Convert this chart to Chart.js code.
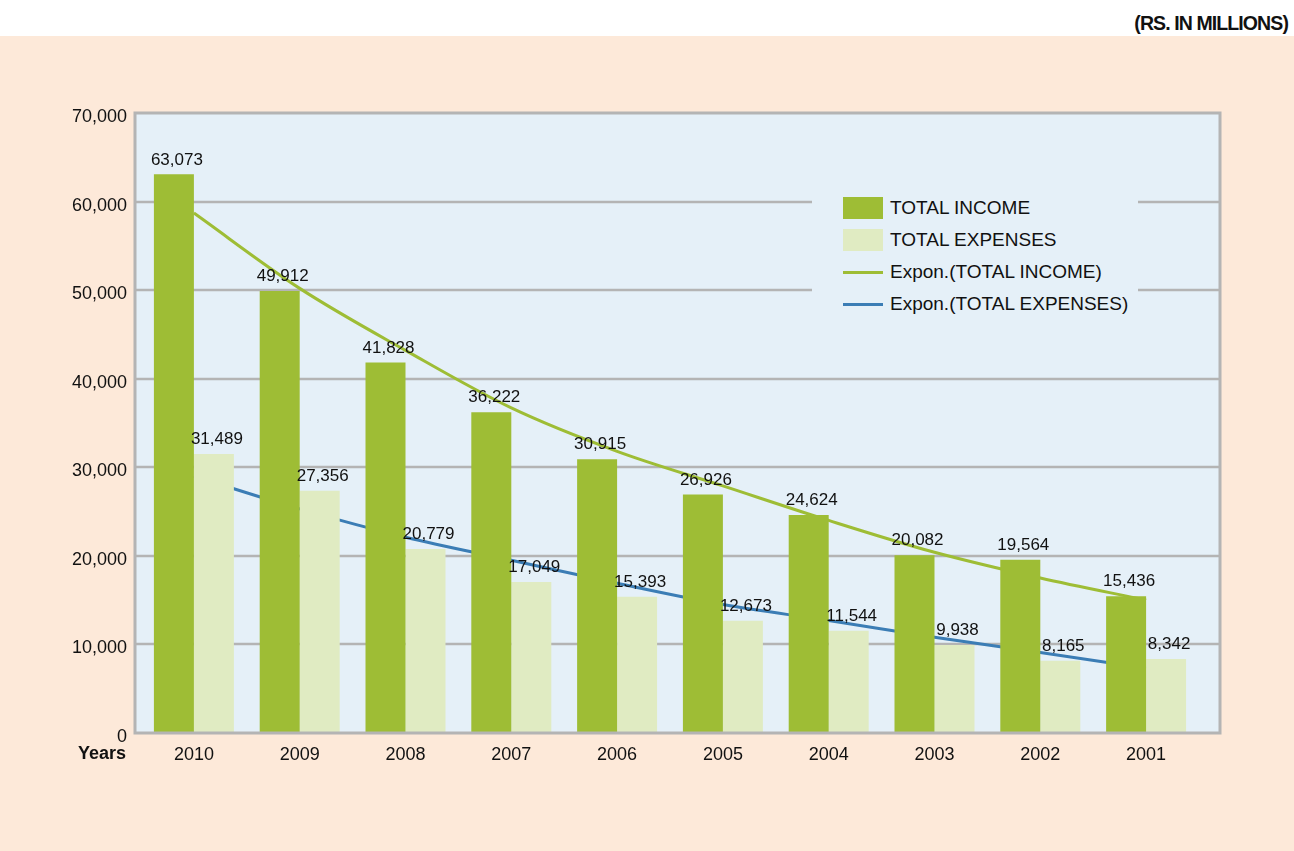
<!DOCTYPE html>
<html>
<head>
<meta charset="utf-8">
<script src="https://cdn.jsdelivr.net/npm/chart.js@4.4.1/dist/chart.umd.min.js"></script>
<style>
  body { margin: 0; background: #fff; font-family: "Liberation Sans", Arial, sans-serif; color: #111; }
  #page { position: relative; width: 1294px; height: 851px; overflow: hidden; }
  #head { height: 36px; position: relative; background: #fff; }
  #unit { position: absolute; right: 6px; top: 12px; font-weight: bold; font-size: 19.5px; letter-spacing: -0.9px; }
  #wrap { position: absolute; left: 0; top: 36px; width: 1294px; height: 815px; background: #fde9d9; }
  #years { position: absolute; left: 78px; top: 743px; font-weight: bold; font-size: 18px; }
  #legend { position: absolute; left: 812px; top: 186px; width: 326px; height: 134px; background: #e5f0f8; }
  .row { position: absolute; left: 0; height: 32px; width: 326px; }
  .sw { position: absolute; left: 31px; width: 40px; }
  .tx { position: absolute; left: 78px; font-size: 19px; line-height: 20px; white-space: nowrap; }
</style>
</head>
<body>
<div id="page">
  <div id="head"><div id="unit">(RS. IN MILLIONS)</div></div>
  <div id="wrap"><canvas id="mycanvas" width="1294" height="815"></canvas></div>
  <div id="years">Years</div>
  <div id="legend"></div>
</div>
<script>
var years = ['2010', '2009', '2008', '2007', '2006', '2005', '2004', '2003', '2002', '2001'];
var totalIncome = [63073, 49912, 41828, 36222, 30915, 26926, 24624, 20082, 19564, 15436];
var totalExpenses = [31489, 27356, 20779, 17049, 15393, 12673, 11544, 9938, 8165, 8342];
// exponential trend lines at each year
var incomeTrend = [58700, 50200, 43200, 36700, 31800, 27900, 24000, 20400, 17500, 15000];
var expensesTrend = [29000, 25300, 22100, 19500, 16900, 14500, 12700, 10800, 9100, 7300];
var yTicks = [0, 10000, 20000, 30000, 40000, 50000, 60000, 70000];

var green = '#9ebd35';
var pale = '#e0ebc2';
var blue = '#3b7db5';
var gridCol = '#b4b4b4';

// html legend
var items = [
  { label: 'TOTAL INCOME', color: green, box: true },
  { label: 'TOTAL EXPENSES', color: pale, box: true },
  { label: 'Expon.(TOTAL INCOME)', color: green, box: false },
  { label: 'Expon.(TOTAL EXPENSES)', color: blue, box: false }
];
var legend = document.getElementById('legend');
items.forEach(function(it, i) {
  var row = document.createElement('div');
  row.className = 'row';
  row.style.top = (6 + i * 32) + 'px';
  var sw = document.createElement('div');
  sw.className = 'sw';
  sw.style.background = it.color;
  sw.style.height = it.box ? '22px' : '3px';
  sw.style.top = it.box ? '5px' : '15px';
  var tx = document.createElement('div');
  tx.className = 'tx';
  tx.style.top = '6px';
  tx.textContent = it.label;
  row.appendChild(sw);
  row.appendChild(tx);
  legend.appendChild(row);
});

var plotBack = {
  id: 'plotBack',
  beforeDatasetsDraw: function(chart) {
    var a = chart.chartArea, ctx = chart.ctx, y = chart.scales.y;
    var l = a.left - 6, r = a.right + 21;
    ctx.save();
    ctx.fillStyle = '#e5f0f8';
    ctx.fillRect(l, a.top, r - l, a.bottom - a.top);
    ctx.strokeStyle = gridCol;
    ctx.lineWidth = 2.5;
    yTicks.forEach(function(v) {
      if (v === 0 || v === 70000) return;
      var py = Math.round(y.getPixelForValue(v));
      ctx.beginPath();
      ctx.moveTo(l, py);
      ctx.lineTo(r, py);
      ctx.stroke();
    });
    ctx.restore();
  },
  afterDatasetsDraw: function(chart) {
    var a = chart.chartArea, ctx = chart.ctx;
    var l = a.left - 6, r = a.right + 21;
    ctx.save();
    ctx.strokeStyle = gridCol;
    ctx.lineWidth = 3;
    ctx.strokeRect(l, a.top, r - l, a.bottom - a.top);
    // value labels over the bars
    ctx.fillStyle = '#111';
    ctx.font = '17px "Liberation Sans", Arial, sans-serif';
    ctx.textAlign = 'center';
    ctx.textBaseline = 'bottom';
    [0, 1].forEach(function(di) {
      var meta = chart.getDatasetMeta(di);
      var data = chart.data.datasets[di].data;
      meta.data.forEach(function(bar, i) {
        ctx.fillText(data[i].toLocaleString('en-US'), bar.x + 3, bar.y - 6);
      });
    });
    ctx.restore();
  }
};

var ctx = document.getElementById('mycanvas');
new Chart(ctx, {
  type: 'bar',
  data: {
    labels: years,
    datasets: [
      { label: 'TOTAL INCOME', data: totalIncome, backgroundColor: green, order: 1,
        categoryPercentage: 0.756, barPercentage: 1 },
      { label: 'TOTAL EXPENSES', data: totalExpenses, backgroundColor: pale, order: 1,
        categoryPercentage: 0.756, barPercentage: 1 },
      { type: 'line', label: 'Expon.(TOTAL INCOME)', data: incomeTrend, borderColor: green,
        borderWidth: 3, pointRadius: 0, cubicInterpolationMode: 'monotone', order: 2 },
      { type: 'line', label: 'Expon.(TOTAL EXPENSES)', data: expensesTrend, borderColor: blue,
        borderWidth: 3, pointRadius: 0, cubicInterpolationMode: 'monotone', order: 2 }
    ]
  },
  options: {
    responsive: false,
    devicePixelRatio: 1,
    animation: false,
    layout: { padding: { top: 77, right: 95, left: 0, bottom: 0 } },
    plugins: { legend: { display: false }, tooltip: { enabled: false } },
    scales: {
      x: {
        offset: true,
        grid: { display: false },
        border: { display: false },
        ticks: { color: '#111', padding: 3, font: { family: '"Liberation Sans", Arial, sans-serif', size: 18 } },
        afterFit: function(s) { s.height = 118; }
      },
      y: {
        min: 0, max: 70000,
        grid: { display: false },
        border: { display: false },
        afterBuildTicks: function(s) { s.ticks = yTicks.map(function(v) { return { value: v }; }); },
        ticks: {
          color: '#111', padding: 6, labelOffset: 4,
          font: { family: '"Liberation Sans", Arial, sans-serif', size: 18 },
          callback: function(v) { return Number(v).toLocaleString('en-US'); }
        },
        afterFit: function(s) { s.width = 141; }
      }
    }
  },
  plugins: [plotBack]
});
</script>
</body>
</html>
